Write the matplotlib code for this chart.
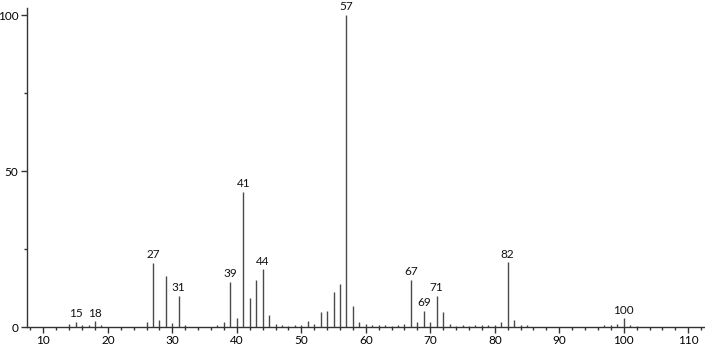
#%%imports
import matplotlib
matplotlib.use("Agg")
import matplotlib.pyplot as plt
from matplotlib.ticker import MultipleLocator
import numpy as np

#%%data (m/z vs relative intensity)
mz = np.array([
    14, 15, 16, 17, 18, 19,
    26, 27, 28, 29, 30, 31, 32,
    37, 38, 39, 40, 41, 42, 43, 44, 45, 46, 47, 48, 49, 50,
    51, 52, 53, 54, 55, 56, 57, 58, 59, 60, 61, 62, 63, 64, 65, 66,
    67, 68, 69, 70, 71, 72, 73, 74, 75, 76, 77, 78, 79, 80, 81,
    82, 83, 84, 85, 97, 98, 99, 100, 101, 102,
])
intensity = np.array([
    1.0, 1.7, 0.5, 0.8, 1.8, 0.5,
    1.7, 20.6, 2.2, 16.4, 1.2, 9.9, 0.8,
    0.8, 1.5, 14.5, 2.8, 43.4, 9.4, 15.1, 18.5, 3.8, 0.9, 0.8, 0.3, 0.5, 0.8,
    2.0, 0.9, 4.9, 5.2, 11.2, 13.8, 100.0, 6.8, 1.7, 0.9, 0.6, 0.8, 0.8, 0.3, 0.8, 1.0,
    15.0, 1.5, 5.1, 1.7, 10.0, 4.9, 0.9, 0.3, 0.5, 0.3, 0.8, 0.5, 0.8, 0.5, 1.7,
    20.7, 2.2, 0.8, 0.8, 0.6, 0.8, 1.0, 2.8, 0.8, 0.3,
])
labelled = [15, 18, 27, 31, 39, 41, 44, 57, 67, 69, 71, 82, 100]

#%%plot
def main():
    plt.rcParams["font.family"] = ["Lato", "DejaVu Sans"]
    fig = plt.figure(figsize=(7.05, 3.49), dpi=100)
    ax = fig.add_axes([0.038, 0.063, 0.962, 0.914])

    ax.vlines(mz, 0, intensity, colors="#4a4a4a", lw=1.0)
    for m in labelled:
        h = intensity[mz == m][0]
        ax.annotate(str(m), (m, h), xytext=(0, 2), textcoords="offset points",
                    ha="center", va="bottom", fontsize=8.5, color="#111111")

    ax.set_xlim(7.43, 112.6)
    ax.set_ylim(0, 102.3)
    ax.xaxis.set_major_locator(MultipleLocator(10))
    ax.xaxis.set_minor_locator(MultipleLocator(2))
    ax.yaxis.set_major_locator(MultipleLocator(50))
    ax.yaxis.set_minor_locator(MultipleLocator(25))
    for s in ["top", "right"]:
        ax.spines[s].set_visible(False)
    for s in ["left", "bottom"]:
        ax.spines[s].set_color("#333333")
        ax.spines[s].set_linewidth(1.0)
    ax.tick_params(which="major", length=4, width=1.0, color="#333333", labelsize=8.5, pad=2)
    ax.tick_params(which="minor", length=2, width=1.0, color="#333333")

    fig.savefig("out.png", dpi=100)

if __name__ == "__main__":
    main()
